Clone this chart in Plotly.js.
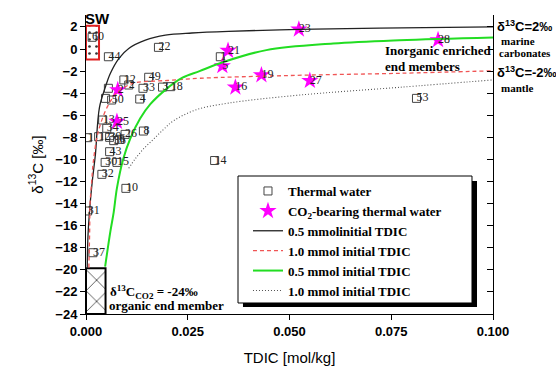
<!DOCTYPE html>
<html><head><meta charset="utf-8">
<script src="https://cdn.plot.ly/plotly-3.0.1.min.js"></script>
<style>body{margin:0;background:#fff}#chart{width:556px;height:369px}</style>
</head><body><div id="chart"></div>
<script>
// Thermal water samples (open squares)
const thermalX = [0.0015, 0.0055, 0.0178, 0.0154, 0.0140, 0.0188, 0.0208, 0.0132, 0.0063, 0.0093, 0.0105, 0.0055, 0.0048, 0.0041, 0.0051, 0.0004, 0.0031, 0.0058, 0.0068, 0.0096, 0.0141, 0.0082, 0.0058, 0.0047, 0.0076, 0.0039, 0.0098, 0.0004, 0.0017, 0.0316, 0.0812, 0.0330];
const thermalY = [1.06, -0.70, 0.15, -2.56, -3.56, -3.45, -3.41, -4.53, -4.62, -2.80, -3.26, -3.56, -4.47, -6.43, -7.18, -8.03, -7.94, -8.00, -8.30, -7.73, -7.43, -8.18, -9.30, -10.27, -10.27, -11.35, -12.62, -14.67, -18.45, -10.10, -4.47, -0.70];
const thermalLabels = ["60", "44", "22", "49", "33", "3", "18", "4", "50", "12", "2", "", "", "13", "34", "1", "12", "39", "36", "26", "8", "6", "43", "30", "15", "32", "10", "31", "37", "14", "53", "1"];
// CO2-bearing thermal water (stars)
const co2X = [0.0078, 0.0076, 0.0349, 0.0335, 0.0367, 0.0431, 0.0523, 0.0550, 0.0865];
const co2Y = [-3.71, -6.58, -0.15, -1.54, -3.47, -2.36, 1.78, -2.87, 0.82];
const co2Labels = ["2", "25", "21", "5", "16", "19", "23", "27", "28"];
// Mixing curves
const blackX = [0.0003, 0.0005, 0.001, 0.0016, 0.0023, 0.0033, 0.0048, 0.006, 0.0081, 0.0105, 0.0146, 0.0195, 0.026, 0.035, 0.0525, 0.072, 0.1];
const blackY = [-19.8, -16.8, -14.1, -11.8, -9.6, -5.3, -3.4, -2.2, -0.85, 0.05, 0.8, 1.25, 1.45, 1.6, 1.78, 1.9, 2.0];
const redX = [0.0007, 0.0009, 0.001, 0.0014, 0.0018, 0.003, 0.0053, 0.0075, 0.01, 0.0122, 0.02, 0.028, 0.05, 0.077, 0.1];
const redY = [-19.8, -16.5, -14.0, -12.0, -10.2, -7.5, -5.2, -4.0, -3.35, -3.05, -2.85, -2.65, -2.4, -2.2, -1.97];
const greenX = [0.0047, 0.006, 0.0068, 0.0076, 0.0092, 0.0109, 0.0133, 0.0158, 0.0195, 0.0237, 0.0279, 0.0336, 0.0443, 0.0607, 0.077, 0.1];
const greenY = [-19.7, -16.5, -14.8, -12.6, -9.9, -8.1, -6.3, -5.0, -3.7, -2.6, -2.0, -1.2, -0.1, 0.5, 0.8, 1.05];
const dotX = [0.0105, 0.012, 0.014, 0.0165, 0.019, 0.0215, 0.0271, 0.035, 0.0525, 0.077, 0.1];
const dotY = [-10.8, -10.0, -9.1, -8.2, -7.3, -6.5, -5.5, -4.9, -4.17, -3.47, -2.8];
// End-member boxes
const swBoxX = [0, 0.0032, 0.0032, 0, 0];
const swBoxY = [-0.95, -0.95, 2.1, 2.1, -0.95];
const orgBoxX = [0, 0.0048, 0.0048, 0, 0];
const orgBoxY = [-24, -24, -19.85, -19.85, -24];
const yTicks = [-24, -22, -20, -18, -16, -14, -12, -10, -8, -6, -4, -2, 0, 2];
const xTicks = [0, 0.025, 0.05, 0.075, 0.1];

const serif = 'Liberation Serif, Times New Roman, serif';
const sans = 'Liberation Sans, Arial, sans-serif';
const yRange = [-24, 3.08];

const traces = [
  {x: swBoxX, y: swBoxY, mode: 'lines', fill: 'toself', line: {color: '#e02020', width: 2},
   fillcolor: 'rgba(255,255,255,0)', fillpattern: {shape: '.', fgcolor: '#333', bgcolor: '#fff', size: 7, solidity: 0.12},
   showlegend: false, hoverinfo: 'skip'},
  {x: orgBoxX, y: orgBoxY, mode: 'lines', fill: 'toself', line: {color: '#000', width: 2},
   fillcolor: 'rgba(255,255,255,0)', fillpattern: {shape: 'x', fgcolor: '#000', bgcolor: '#fff', size: 15, solidity: 0.08},
   showlegend: false, hoverinfo: 'skip'},
  {x: thermalX, y: thermalY, mode: 'markers', name: 'Thermal water',
   marker: {symbol: 'square-open', size: 8, color: '#444', line: {width: 1}}},
  {x: co2X, y: co2Y, mode: 'markers', name: 'CO<sub>2</sub>-bearing thermal water',
   marker: {symbol: 'star', size: 13, color: '#ff00ff', line: {width: 0}}},
  {x: blackX, y: blackY, mode: 'lines', name: '0.5 mmolinitial TDIC', line: {color: '#222', width: 1.3, shape: 'spline'}},
  {x: redX, y: redY, mode: 'lines', name: '1.0 mmol initial TDIC', line: {color: '#f05555', width: 1.3, dash: '4px,3px', shape: 'spline'}},
  {x: greenX, y: greenY, mode: 'lines', name: '0.5 mmol initial TDIC', line: {color: '#22dd22', width: 2, shape: 'spline'}},
  {x: dotX, y: dotY, mode: 'lines', name: '1.0 mmol initial TDIC', line: {color: '#555', width: 1.1, dash: '1px,2px', shape: 'spline'}},
  {x: thermalX, y: thermalY, mode: 'text', text: thermalLabels, textposition: 'middle right',
   textfont: {family: serif, size: 12, color: '#222'}, showlegend: false, hoverinfo: 'skip', cliponaxis: false},
  {x: co2X, y: co2Y, mode: 'text', text: co2Labels, textposition: 'middle right',
   textfont: {family: serif, size: 12, color: '#222'}, showlegend: false, hoverinfo: 'skip', cliponaxis: false},
  {x: [], y: [], yaxis: 'y2', showlegend: false, hoverinfo: 'skip'}
];

const annBold = (text, x, y, xref, yref, size, family, anchor) => ({
  text: text, x: x, y: y, xref: xref, yref: yref, showarrow: false, xanchor: anchor || 'left', yanchor: 'middle',
  font: {family: family, size: size, color: '#000', weight: 'bold'}
});

const layout = {
  width: 556, height: 369,
  margin: {l: 86, r: 63, t: 15, b: 55},
  paper_bgcolor: '#fff', plot_bgcolor: '#fff',
  showlegend: true,
  xaxis: {range: [0, 0.1], tickvals: xTicks, tickformat: '.3f', ticks: 'outside', ticklen: 5, tickcolor: '#000',
    showline: true, linecolor: '#000', linewidth: 1, showgrid: false, zeroline: false,
    tickfont: {family: sans, size: 13, color: '#000', weight: 'bold'},
    title: {text: 'TDIC [mol/kg]', font: {family: sans, size: 15, color: '#000'}, standoff: 14}},
  yaxis: {range: yRange, tickvals: yTicks, ticks: 'outside', ticklen: 5, tickcolor: '#000',
    showline: true, linecolor: '#000', linewidth: 1, showgrid: false, zeroline: false,
    tickfont: {family: sans, size: 13, color: '#000', weight: 'bold'},
    title: {text: 'δ<sup>13</sup>C [‰]', font: {family: sans, size: 15, color: '#000'}, standoff: 8}},
  yaxis2: {range: yRange, tickvals: yTicks, overlaying: 'y', side: 'right', anchor: 'x', ticks: 'inside', ticklen: 6,
    tickcolor: '#000', showline: true, linecolor: '#000', linewidth: 1, showgrid: false, zeroline: false, showticklabels: false},
  legend: {x: 0.398, y: 0.4615, xanchor: 'left', yanchor: 'top', bgcolor: 'rgba(0,0,0,0)', borderwidth: 0,
    font: {family: serif, size: 13, color: '#000', weight: 'bold'}, tracegroupgap: 0},
  shapes: [
    {type: 'rect', xref: 'paper', yref: 'paper', x0: 0.3857, x1: 0.9607, y0: 0.0234, y1: 0.4448, fillcolor: '#000', line: {width: 0}, layer: 'above'},
    {type: 'rect', xref: 'paper', yref: 'paper', x0: 0.3735, x1: 0.9484, y0: 0.0368, y1: 0.4615, fillcolor: '#fff', line: {color: '#000', width: 1}, layer: 'above'}
  ],
  annotations: [
    annBold('SW', 0.0028, 2.76, 'x', 'y', 15, sans, 'center'),
    annBold('Inorganic enriched', 0.0729, -0.09, 'x', 'y', 13, serif),
    annBold('end members', 0.0729, -1.59, 'x', 'y', 13, serif),
    annBold('δ<sup>13</sup>C<sub>CO2</sub> = -24‰', 0.0053, -22.0, 'x', 'y', 13, serif),
    annBold('organic end member', 0.0051, -23.23, 'x', 'y', 13, serif),
    annBold('δ<sup>13</sup>C=2‰', 1.004, 2.05, 'paper', 'y', 13, sans),
    annBold('marine', 1.015, 0.75, 'paper', 'y', 11, serif),
    annBold('carbonates', 1.010, -0.34, 'paper', 'y', 11, serif),
    annBold('δ<sup>13</sup>C=-2‰', 1.004, -2.05, 'paper', 'y', 13, sans),
    annBold('mantle', 1.015, -3.53, 'paper', 'y', 11, serif)
  ]
};

Plotly.newPlot('chart', traces, layout, {displayModeBar: false, staticPlot: true});
</script>
</body></html>
